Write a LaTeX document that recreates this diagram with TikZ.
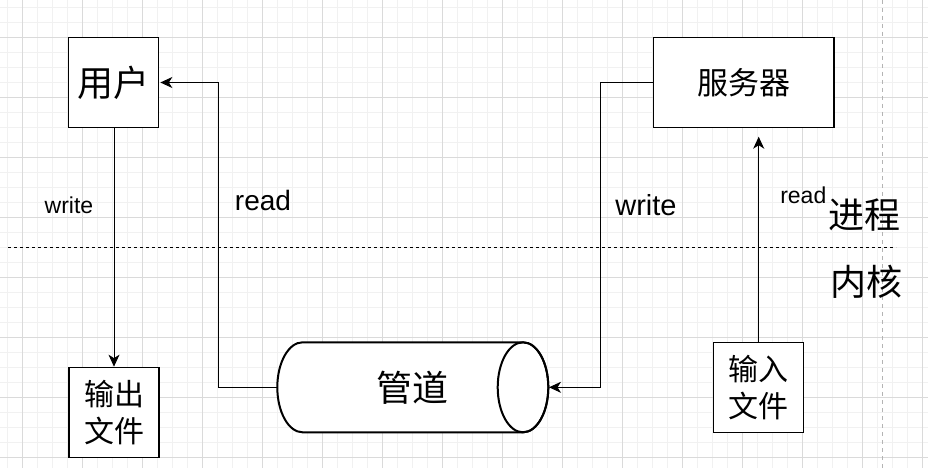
\documentclass[tikz,border=0pt]{standalone}
\usepackage{fontspec}
\setmainfont{Liberation Sans}
\newfontfamily\cjk{Noto Sans CJK SC}
\usetikzlibrary{arrows.meta}
\definecolor{gridminor}{RGB}{241,241,241}
\definecolor{gridmajor}{RGB}{218,218,218}
\definecolor{sepgrey}{RGB}{180,180,180}
\tikzset{
  boxnode/.style={draw=black,line width=1.3pt,fill=white,inner sep=0pt,align=center},
  conn/.style={line width=1pt,-{Stealth[length=12pt,width=11pt,inset=3.5pt]}},
  plainconn/.style={line width=1pt},
  cjkbig/.style={font=\cjk\fontsize{36}{43}\selectfont},
  cjkmid/.style={font=\cjk\fontsize{31}{37}\selectfont},
  cjkfile/.style={font=\cjk\fontsize{30}{37}\selectfont},
  lbl/.style={inner sep=0pt,anchor=base},
}
\begin{document}
\begin{tikzpicture}[x=1pt,y=-1pt]
\useasboundingbox (0,0) rectangle (928,468);
\fill[white] (0,0) rectangle (928,468);
% grid
\foreach \i in {0,...,61} {\draw[gridminor,line width=1pt] ({7.7+15*\i},0) -- ({7.7+15*\i},468);}
\foreach \j in {0,...,30} {\draw[gridminor,line width=1pt] (0,{7.3+15*\j}) -- (928,{7.3+15*\j});}
\foreach \i in {0,...,15} {\draw[gridmajor,line width=1pt] ({22.7+60*\i},0) -- ({22.7+60*\i},468);}
\foreach \j in {0,...,7} {\draw[gridmajor,line width=1pt] (0,{37.3+60*\j}) -- (928,{37.3+60*\j});}
% separators
\draw[sepgrey,line width=1.3pt,dash pattern=on 4pt off 4pt] (882.7,0) -- (882.7,468);
\draw[black,line width=1pt,dash pattern=on 3pt off 3pt] (8,247.7) -- (896,247.7);

% nodes
\node[boxnode,cjkbig,minimum width=90pt,minimum height=90.4pt] (user) at (113.7,82.5) {用户};
\node[boxnode,cjkmid,minimum width=180.3pt,minimum height=90pt] (server) at (743.85,82.7) {服务器};
\node[boxnode,cjkfile,minimum width=90pt,minimum height=90pt] (output) at (114,412.3) {输出\\文件};
\node[boxnode,cjkfile,minimum width=90pt,minimum height=90pt] (input) at (758.7,387.7) {输入\\文件};

% pipe (cylinder)
\draw[line width=2pt,fill=white] (523,342.3) -- (302.6,342.3)
  arc[start angle=270,end angle=90,x radius=25.3,y radius=45]
  -- (523,432.3)
  arc[start angle=90,end angle=-90,x radius=25.3,y radius=45] -- cycle;
\draw[line width=2pt] (523,387.3) ellipse [x radius=25.3,y radius=45];
\node[inner sep=0pt,minimum width=271pt,minimum height=90pt,cjkbig] (pipe) at (412.8,387.3) {管道};

\node[inner sep=0pt,cjkbig] (proc) at (864,215) {进程};
\node[inner sep=0pt,cjkbig] (kern) at (866,282) {内核};

% labels
\node[lbl,font=\fontsize{23}{27}\selectfont] (w1) at (69,213) {write};
\node[lbl,font=\fontsize{28}{33}\selectfont] (r1) at (263,210) {read};
\node[lbl,font=\fontsize{29}{34}\selectfont] (w2) at (646,215) {write};
\node[lbl,font=\fontsize{23}{27}\selectfont] (r2) at (803.3,203) {read};

% connectors
\draw[conn] (user.south -| output.north) -- (output.north);
\draw[conn,shorten >=1pt] (pipe.west) -- ++(-58.3,0) |- (user.east);
\draw[conn,shorten >=0.5pt] (server.west) -- ++(-52.4,0) |- (pipe.east);
\coordinate (srvgap) at (758.7,136.7);
\draw[conn] (input.north) -- (srvgap);
\end{tikzpicture}
\end{document}
